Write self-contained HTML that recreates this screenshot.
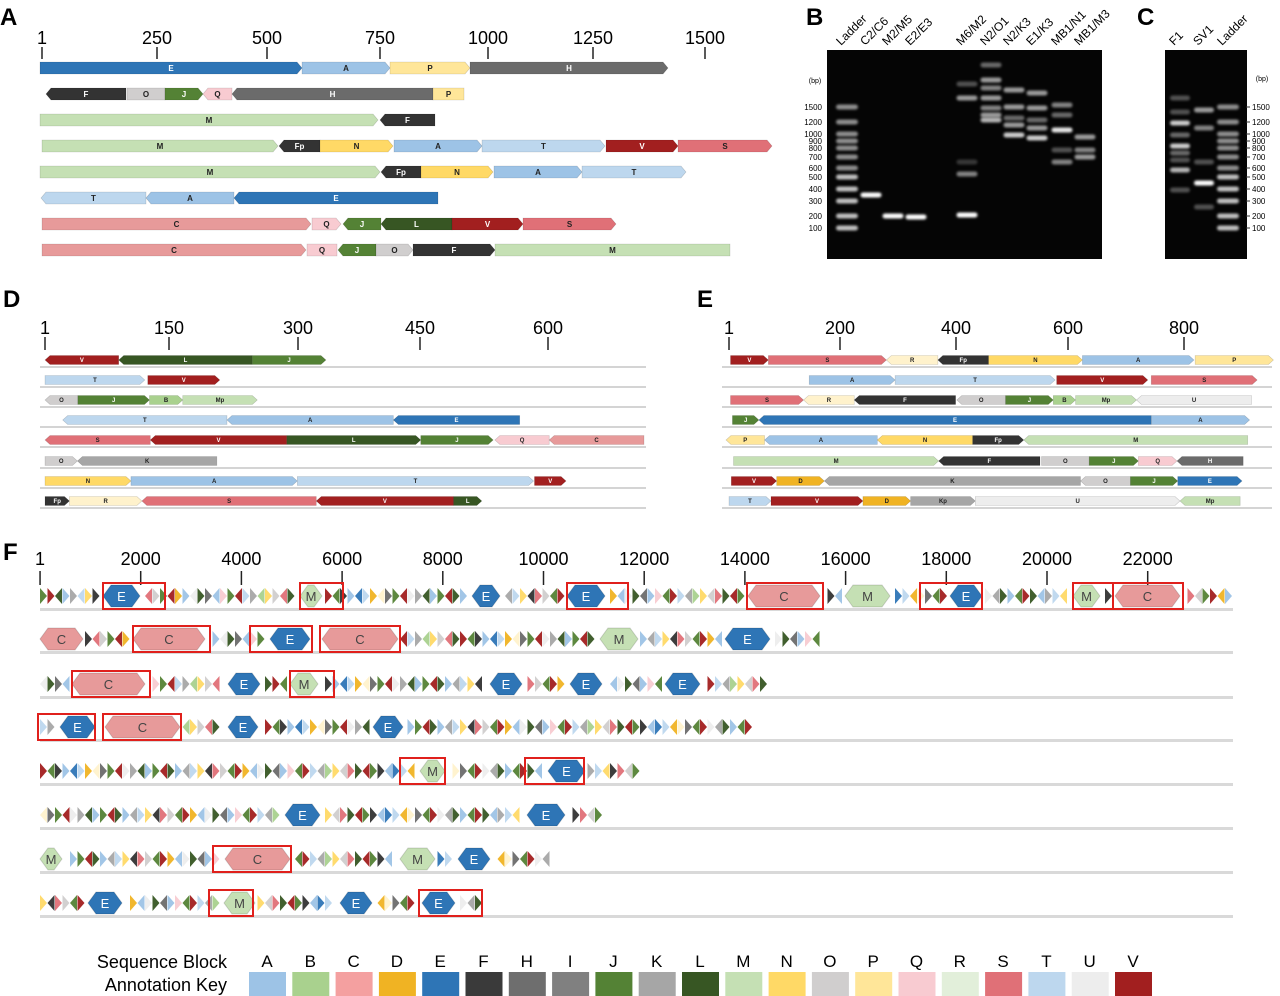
<!DOCTYPE html>
<html><head><meta charset="utf-8"><style>
body{margin:0;background:#fff;}
svg{display:block;font-family:"Liberation Sans",sans-serif;}
</style></head><body>
<svg id="fig" width="1280" height="996" viewBox="0 0 1280 996" xmlns="http://www.w3.org/2000/svg">
<defs><filter id="blur" x="-50%" y="-200%" width="200%" height="500%"><feGaussianBlur stdDeviation="1.3"/></filter></defs>
<g id="root"></g>
</svg>
<script>
const NS="http://www.w3.org/2000/svg";
const root=document.getElementById('root');
const COL={A:'#9dc3e6',B:'#a9d18e',C:'#e79a9a',D:'#f0b323',E:'#2e75b6',F:'#333333',Fp:'#333333',H:'#6b6b6b',I:'#7f7f7f',J:'#548235',K:'#a6a6a6',Kp:'#a6a6a6',L:'#375623',M:'#c5e0b4',Mp:'#c5e0b4',N:'#ffd966',O:'#d0cece',P:'#ffe699',Q:'#f8cbd1',R:'#fff2cc',S:'#e07077',T:'#bdd7ee',U:'#ededed',V:'#a21f1f'};
const DARK=['E','F','Fp','H','I','J','L','V'];
function el(tag,attrs,parent,name,inter){const e=document.createElementNS(NS,tag);for(const k in attrs)e.setAttribute(k,attrs[k]);


(parent||root).appendChild(e);return e;}
function txt(x,y,s,size,parent,name,extra){const t=el('text',Object.assign({x:x,y:y,'font-size':size,'text-anchor':'middle'},extra||{}),parent,name);t.textContent=s;return t;}
function seg(g,x1,x2,y,h,dir,lab,fs){
  const n=Math.min(5,(x2-x1)/3);let pts;
  if(dir==='r')pts=[[x1,y-h],[x2-n,y-h],[x2,y],[x2-n,y+h],[x1,y+h]];
  else if(dir==='l')pts=[[x1+n,y-h],[x2,y-h],[x2,y+h],[x1+n,y+h],[x1,y]];
  else pts=[[x1,y-h],[x2,y-h],[x2,y+h],[x1,y+h]];
  el('polygon',{points:pts.map(p=>p.join(',')).join(' '),fill:COL[lab],stroke:'rgba(0,0,0,0.18)','stroke-width':0.6},g,'block-'+lab.toLowerCase());
  txt((x1+x2)/2,y+fs*0.35,lab,fs,g,'block-label',{fill:DARK.includes(lab)?'#fff':'#222','font-weight':'bold'});
}
function axis(g,ticks,xs,yLab,yT1,yT2,fs){
  ticks.forEach((t,i)=>{txt(xs[i],yLab,t,fs,g,'tick-label');
  el('line',{x1:xs[i],x2:xs[i],y1:yT1,y2:yT2,stroke:'#222','stroke-width':1.5},g,'tick-mark');});
}
function panelLabel(x,y,s){txt(x,y,s,24,root,'panel-label-'+s.toLowerCase(),{'font-weight':'bold','text-anchor':'start'});}

/* ---------- Panel A ---------- */
const aTicks=['1','250','500','750','1000','1250','1500'];
const aTickX=[42,157,267,380,488,593,705];
const aRowsY=[68,94,120,146,172,198,224,250];
const aRows=[
 [['E',40,302,'r'],['A',302,390,'r'],['P',390,470,'r'],['H',470,668,'r']],
 [['F',46,126,'l'],['O',127,165,'n'],['J',165,203,'r'],['Q',203,232,'l'],['H',232,433,'l'],['P',433,464,'n']],
 [['M',40,378,'r'],['F',380,435,'l']],
 [['M',42,278,'r'],['Fp',279,320,'l'],['N',320,393,'r'],['A',394,482,'r'],['T',482,605,'r'],['V',606,678,'r'],['S',678,772,'r']],
 [['M',40,380,'r'],['Fp',381,421,'l'],['N',421,493,'r'],['A',494,582,'r'],['T',582,686,'r']],
 [['T',41,146,'l'],['A',146,234,'l'],['E',234,438,'l']],
 [['C',42,311,'r'],['Q',312,341,'r'],['J',343,381,'l'],['L',381,452,'l'],['V',452,523,'r'],['S',523,616,'r']],
 [['C',42,306,'r'],['Q',307,337,'n'],['J',338,376,'l'],['O',376,413,'r'],['F',413,495,'r'],['M',495,730,'n']]
];
panelLabel(0,25,'A');
const gA=el('g',{},root,'panel-a');
axis(gA,aTicks,aTickX,44,47,59,18);
aRows.forEach((r,i)=>{const gr=el('g',{},gA,'panel-a-row');r.forEach(s=>seg(gr,s[1],s[2],aRowsY[i],6,s[3],s[0],8));});

/* ---------- Panel D ---------- */
function rowsPanel(g,rows,ys,conv,h,lineX1,lineX2){
  rows.forEach((r,i)=>{const gr=el('g',{},g,'track-row');
    el('line',{x1:lineX1,x2:lineX2,y1:ys[i]+7,y2:ys[i]+7,stroke:'#bbb','stroke-width':1.2},gr,'track-baseline');
    r.forEach(s=>seg(gr,conv(s[1]),conv(s[2]),ys[i],h,s[3],s[0],6));});
}
const dTicks=['1','150','300','450','600'];
const dTickX=[45,169,298,420,548];
const rowsY8=[360,380,400,420,440,461,481,501];
const dRows=[
 [['V',108,283,'l'],['L',283,600,'l'],['J',600,775,'r']],
 [['T',108,345,'r'],['V',352,523,'r']],
 [['O',108,186,'l'],['J',186,356,'r'],['B',356,435,'r'],['Mp',435,612,'r']],
 [['T',150,540,'l'],['A',540,935,'l'],['E',935,1235,'l']],
 [['S',108,358,'l'],['V',358,682,'l'],['L',682,1000,'r'],['J',1000,1172,'r'],['Q',1176,1305,'l'],['C',1305,1530,'l']],
 [['O',108,185,'r'],['K',185,516,'l']],
 [['N',108,312,'r'],['A',312,707,'r'],['T',707,1268,'r'],['V',1270,1345,'r']],
 [['Fp',108,166,'r'],['R',166,338,'r'],['S',338,752,'l'],['V',752,1078,'l'],['L',1078,1145,'r']]
];
panelLabel(3,307,'D');
const gD=el('g',{},root,'panel-d');
axis(gD,dTicks,dTickX,334,337,350,18);
rowsPanel(gD,dRows,rowsY8,zx=>45+(zx-108)/2.374,4.5,40,646);

/* ---------- Panel E ---------- */
const eTicks=['1','200','400','600','800'];
const eTickX=[729,840,956,1068,1184];
const eRows=[
 [['V',110,210,'r'],['S',210,522,'r'],['R',522,658,'l'],['Fp',658,792,'l'],['N',792,1040,'r'],['A',1040,1335,'r'],['P',1338,1545,'r']],
 [['A',318,545,'r'],['T',545,968,'r'],['V',972,1213,'r'],['S',1222,1502,'r']],
 [['S',110,303,'r'],['R',303,437,'l'],['F',437,705,'l'],['O',708,837,'l'],['J',837,963,'r'],['B',963,1022,'r'],['Mp',1022,1183,'r'],['U',1183,1487,'l']],
 [['J',115,185,'r'],['E',185,1222,'l'],['A',1222,1482,'r']],
 [['P',98,200,'l'],['A',200,498,'l'],['N',498,750,'l'],['Fp',750,885,'r'],['M',885,1477,'l']],
 [['M',118,660,'r'],['F',660,928,'l'],['O',932,1058,'n'],['J',1058,1188,'r'],['Q',1188,1290,'r'],['H',1290,1465,'l']],
 [['V',112,232,'r'],['D',232,358,'r'],['K',358,1035,'l'],['O',1035,1167,'l'],['J',1167,1292,'r'],['E',1292,1462,'r']],
 [['T',106,217,'r'],['V',217,460,'r'],['D',460,586,'r'],['Kp',586,757,'r'],['U',757,1298,'r'],['Mp',1298,1457,'l']]
];
panelLabel(697,307,'E');
const gE=el('g',{},root,'panel-e');
axis(gE,eTicks,eTickX,334,337,350,18);
rowsPanel(gE,eRows,rowsY8,zx=>729+(zx-106)/2.643,4.5,722,1272);

/* ---------- Panel B / C gels ---------- */
panelLabel(806,25,'B');panelLabel(1137,25,'C');
const gB=el('g',{},root,'panel-b-gel');
el('rect',{x:827,y:50,width:275,height:209,fill:'#050505'},gB,'gel-b-background');
const gC=el('g',{},root,'panel-c-gel');
el('rect',{x:1165,y:50,width:82,height:209,fill:'#050505'},gC,'gel-c-background');
const ladderBp=['1500','1200','1000','900','800','700','600','500','400','300','200','100'];
const ladderY=[107,122,134,141,148,157,168,177,189,201,216,228];
const bLanes=['Ladder','C2/C6','M2/M5','E2/E3','M6/M2','N2/O1','N2/K3','E1/K3','MB1/N1','MB1/M3'];
const bLaneX=[847,871,893,916,967,991,1014,1037,1062,1085];
const bBands=[[],[[195,1]],[[216,1]],[[217,1]],[[215,1],[174,.5],[98,.6],[84,.3],[162,.2]],
 [[65,.4],[80,.6],[88,.5],[98,.6],[108,.5],[115,.6],[120,.7]],
 [[90,.6],[107,.6],[118,.4],[125,.6],[135,.8]],
 [[93,.6],[108,.6],[120,.4],[128,.6],[138,.8]],
 [[105,.5],[115,.4],[130,.9],[150,.3],[162,.5]],
 [[137,.6],[150,.5],[157,.6]]];
const cLanes=['F1','SV1','Ladder'];
const cLaneX=[1180,1204,1228];
const cBands=[[[98,.3],[112,.3],[123,.8],[135,.4],[146,.8],[153,.4],[160,.3],[170,.7],[190,.3]],[[110,.6],[128,.5],[162,.3],[183,1],[207,.3]],[]];
function band(g,x,y,w,op){el('rect',{x:x-w/2,y:y-2.5,width:w,height:5,rx:2.5,fill:'#fff',opacity:op,filter:'url(#blur)'},g,'gel-band');}
ladderY.forEach((y,i)=>{band(gB,bLaneX[0],y,22,i>=7?0.75:0.55);band(gC,cLaneX[2],y,22,i>=7?0.75:0.55);});
bBands.forEach((bs,i)=>bs.forEach(b=>band(gB,bLaneX[i],b[0],21,b[1])));
cBands.forEach((bs,i)=>bs.forEach(b=>band(gC,cLaneX[i],b[0],20,b[1])));
bLanes.forEach((l,i)=>txt(bLaneX[i]-6,46,l,12,gB,'lane-label',{transform:'rotate(-45 '+(bLaneX[i]-6)+' 46)','text-anchor':'start'}));
cLanes.forEach((l,i)=>txt(cLaneX[i]-6,46,l,12,gC,'lane-label',{transform:'rotate(-45 '+(cLaneX[i]-6)+' 46)','text-anchor':'start'}));
txt(815,83,'(bp)',7,gB,'bp-unit-label');txt(1262,81,'(bp)',7,gC,'bp-unit-label');
ladderBp.forEach((b,i)=>{txt(822,ladderY[i]+3,b,8,gB,'ladder-size-label',{'text-anchor':'end'});
 txt(1252,ladderY[i]+3,b,8,gC,'ladder-size-label',{'text-anchor':'start'});
 el('line',{x1:1246,x2:1250,y1:ladderY[i],y2:ladderY[i],stroke:'#333'},gC,'ladder-tick');});

/* ---------- Panel F ---------- */
panelLabel(3,560,'F');
const gF=el('g',{},root,'panel-f');
const fTicks=['1','2000','4000','6000','8000','10000','12000','14000','16000','18000','20000','22000'];
axis(gF,fTicks,fTicks.map(t=>40+(+t)*0.05035),565,571,585,18);
const fRowY=[596,639,684,727,771,815,859,903];
const fRowEnd=[1228,818,766,750,633,600,548,482];
const fBig=[
 [['E',103,140],['M',300,322],['E',472,500],['E',567,605],['C',748,820],['M',845,890],['E',950,982],['M',1073,1100],['C',1115,1180]],
 [['C',40,83],['C',133,205],['E',270,310],['C',322,398],['M',600,638],['E',725,770]],
 [['C',72,145],['E',228,260],['M',290,318],['E',490,522],['E',570,602],['E',665,700]],
 [['E',60,95],['C',105,180],['E',228,258],['E',373,403]],
 [['M',420,445],['E',548,585]],
 [['E',285,320],['E',527,565]],
 [['M',40,62],['C',225,290],['M',400,435],['E',458,490]],
 [['E',88,122],['M',224,255],['E',340,372],['E',422,455]]
];
const fBoxes=[
 [[103,165],[300,343],[567,628],[747,823],[920,982],[1073,1113],[1113,1183]],
 [[133,210],[250,312],[320,400]],
 [[72,150],[290,334]],
 [[38,95],[103,181]],
 [[400,445],[525,584]],
 [],
 [[213,291]],
 [[209,253],[419,482]]
];
const fillSeq='JVLAKTNFSOJVDAULHAQJVTKBNOSLVJFAETDRHJVUKLA';
fRowY.forEach((y,ri)=>{
  const gr=el('g',{},gF,'genome-row');
  el('rect',{x:40,y:y+12,width:1193,height:3,fill:'#d9d9d9'},gr,'row-baseline');
  const big=fBig[ri];let k=ri*7;
  for(let x=40;x<fRowEnd[ri];x+=7.5){
    if(big.some(b=>x+7>b[1]-2&&x<b[2]+2))continue;
    const c=fillSeq[k%fillSeq.length];k++;
    const dir=(k%3===0)?-1:1;
    const pts=dir>0?[[x,y-8],[x+7,y],[x,y+8]]:[[x+7,y-8],[x,y],[x+7,y+8]];
    el('polygon',{points:pts.map(p=>p.join(',')).join(' '),fill:COL[c],opacity:0.95},gr,'small-block');
  }
  big.forEach(b=>{const x1=b[1],x2=b[2],h=11,n=8;
    const pts=[[x1+n,y-h],[x2-n,y-h],[x2,y],[x2-n,y+h],[x1+n,y+h],[x1,y]];
    el('polygon',{points:pts.map(p=>p.join(',')).join(' '),fill:COL[b[0]],stroke:'rgba(0,0,0,0.15)'},gr,'large-block-'+b[0].toLowerCase());
    txt((x1+x2)/2,y+5,b[0],13,gr,'large-block-label',{fill:b[0]==='E'?'#fff':'#444'});});
  fBoxes[ri].forEach(b=>el('rect',{x:b[0],y:y-13,width:b[1]-b[0],height:26,fill:'none',stroke:'#e0201c','stroke-width':2},gr,'highlight-box'));
});

/* ---------- Key ---------- */
const gK=el('g',{},root,'annotation-key');
txt(227,968,'Sequence Block',18,gK,'key-title',{'text-anchor':'end'});
txt(227,991,'Annotation Key',18,gK,'key-title',{'text-anchor':'end'});
const keyLetters=['A','B','C','D','E','F','H','I','J','K','L','M','N','O','P','Q','R','S','T','U','V'];
const keyCol={A:'#9dc3e6',B:'#a9d18e',C:'#f4a0a0',D:'#f0b323',E:'#2e75b6',F:'#3a3a3a',H:'#6e6e6e',I:'#808080',J:'#548235',K:'#a6a6a6',L:'#375623',M:'#c5e0b4',N:'#ffd966',O:'#d0cece',P:'#ffe699',Q:'#f8cbd1',R:'#e2efda',S:'#e07077',T:'#bdd7ee',U:'#ededed',V:'#a21f1f'};
keyLetters.forEach((l,i)=>{const x=249+i*43.3;
  txt(x+18,967,l,17,gK,'key-letter');
  el('rect',{x:x,y:972,width:37,height:24,fill:keyCol[l]},gK,'key-swatch-'+l.toLowerCase());});
</script>
</body></html>
